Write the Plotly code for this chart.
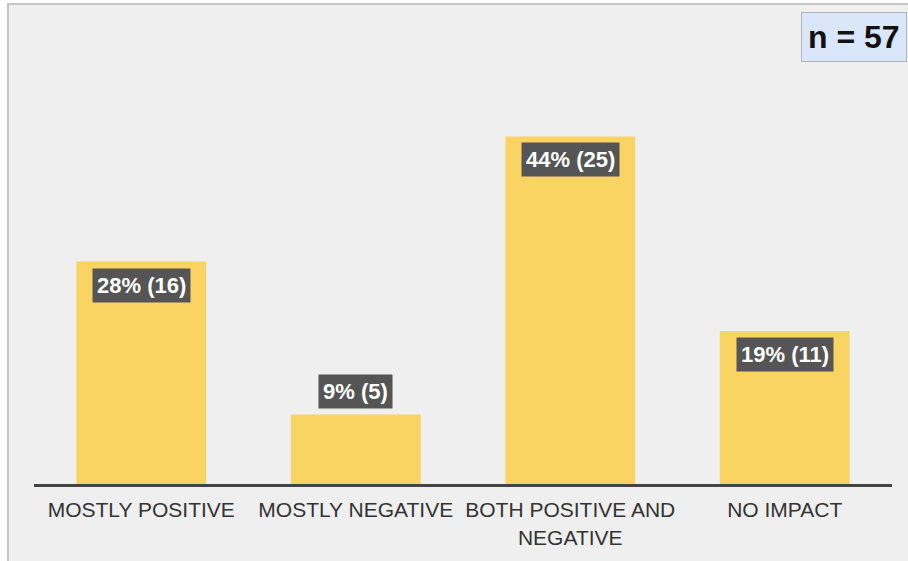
import plotly.graph_objects as go

categories = ["MOSTLY POSITIVE", "MOSTLY NEGATIVE", "BOTH POSITIVE AND<br>NEGATIVE", "NO IMPACT"]
counts = [16, 5, 25, 11]
percents = [28, 9, 44, 19]
total_n = 57
label_inside = [True, False, True, True]

fig = go.Figure()
fig.add_trace(go.Bar(
    x=categories, y=counts,
    marker=dict(color="#f9d462", line=dict(width=0)),
    hoverinfo="skip",
))

for cat, c, p, inside in zip(categories, counts, percents, label_inside):
    fig.add_annotation(
        x=cat, y=c, xref="x", yref="y",
        text=f"<b>{p}% ({c})</b>",
        showarrow=False,
        yanchor="top" if inside else "bottom",
        yshift=-6 if inside else 6,
        bgcolor="#555555",
        borderpad=4,
        font=dict(family="Liberation Sans, Arial", size=22, color="white"),
    )

fig.add_annotation(
    x=1.0175, y=1.0, xref="paper", yref="paper",
    xanchor="right", yanchor="top", yshift=8,
    text=f"<b>n = {total_n}</b>",
    showarrow=False,
    bgcolor="#dae7fb", bordercolor="#b5b5b5", borderwidth=1, borderpad=6,
    font=dict(family="Liberation Sans, Arial", size=32, color="#111111"),
)

fig.add_shape(
    type="rect", xref="paper", yref="paper",
    x0=-0.0303, x1=1.1, y0=-0.5, y1=1.0343,
    fillcolor="#efefef", line=dict(color="#c4c4c4", width=2), layer="below",
)

fig.update_layout(
    width=908, height=561,
    margin=dict(l=34, r=16, t=20, b=75),
    paper_bgcolor="white",
    plot_bgcolor="rgba(0,0,0,0)",
    bargap=0.395,
    showlegend=False,
    xaxis=dict(
        showline=True, linecolor="#444444", linewidth=3,
        showgrid=False, ticks="", zeroline=False,
        tickfont=dict(family="Liberation Sans, Arial", size=21, color="#333333"),
        ticklabelstandoff=5,
    ),
    yaxis=dict(
        range=[0, 33.38], visible=False, showgrid=False, zeroline=False,
    ),
)

fig.write_html(
    "out.html",
    config={"displayModeBar": False},
    post_script="document.body.style.margin='0';document.body.style.overflow='hidden';",
)
